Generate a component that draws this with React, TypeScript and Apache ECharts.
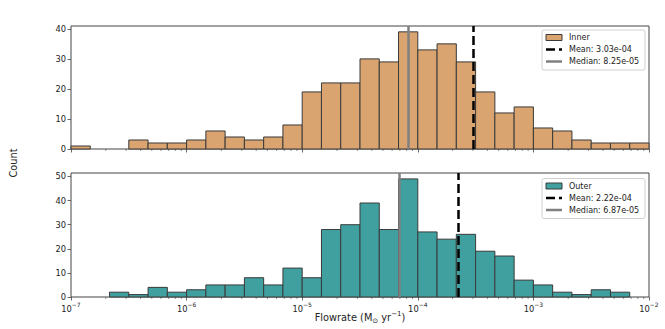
import React, { useEffect, useRef } from "react";
import * as echarts from "echarts";

// ---- data ----
const LOG_MIN = -7;
const LOG_MAX = -2;
const BINS_PER_DECADE = 6;
const PANEL_NAMES = ["Inner", "Outer"];
const INNER_COUNTS = [1, 0, 0, 3, 2, 2, 3, 6, 4, 3, 4, 8, 19, 22, 22, 30, 29, 39, 33, 35, 29, 19, 12, 14, 7, 6, 3, 2, 2, 2];
const OUTER_COUNTS = [0, 0, 2, 1, 4, 2, 3, 5, 5, 8, 5, 12, 8, 28, 30, 39, 28, 49, 27, 24, 26, 19, 17, 7, 5, 2, 1, 3, 2, 0];
const MEANS = [3.03e-4, 2.22e-4];
const MEDIANS = [8.25e-5, 6.87e-5];
const Y_TICKS_INNER = [0, 10, 20, 30, 40];
const Y_TICKS_OUTER = [0, 10, 20, 30, 40, 50];
const Y_MAX = [40.95, 51.45];
const X_TICK_EXPONENTS = [-7, -6, -5, -4, -3, -2];
const MINOR_MULTIPLIERS = [2, 3, 4, 5, 6, 7, 8, 9];

// ---- style ----
const FONT = "DejaVu Sans";
const FILL = ["rgb(217,164,111)", "rgb(64,160,160)"];
const EDGE = "#3a3a3a";
const AXIS_COLOR = "#444";
const TEXT_COLOR = "#222";
const GRID_LEFT = 71;
const GRID_WIDTH = 578;
const GRIDS = [
  { top: 26, height: 123 },
  { top: 173, height: 124 },
];

function fmtExp(v: number): string {
  const s = v.toExponential(2);
  const [m, e] = s.split("e");
  const sign = e[0] === "-" ? "-" : "+";
  const digits = e.replace(/[+-]/, "").padStart(2, "0");
  return `${m}e${sign}${digits}`;
}

function barSeries(idx: number, counts: number[]) {
  const data = counts
    .map((c, i) => [LOG_MIN + i / BINS_PER_DECADE, LOG_MIN + (i + 1) / BINS_PER_DECADE, c])
    .filter((d) => d[2] > 0);
  return {
    type: "custom",
    name: PANEL_NAMES[idx],
    xAxisIndex: idx,
    yAxisIndex: idx,
    z: 2,
    encode: { x: [0, 1], y: 2 },
    data,
    renderItem: (_p: any, api: any) => {
      const p0 = api.coord([api.value(0), api.value(2)]);
      const p1 = api.coord([api.value(1), 0]);
      return {
        type: "rect",
        shape: { x: p0[0], y: p0[1], width: p1[0] - p0[0], height: p1[1] - p0[1] },
        style: { fill: FILL[idx], stroke: EDGE, lineWidth: 1 },
      };
    },
  };
}

function linesSeries(idx: number) {
  return {
    type: "line",
    xAxisIndex: idx,
    yAxisIndex: idx,
    data: [],
    z: 5,
    markLine: {
      silent: true,
      symbol: ["none", "none"],
      label: { show: false },
      animation: false,
      data: [
        { xAxis: Math.log10(MEANS[idx]), lineStyle: { color: "#000", width: 2.5, type: [9, 4] } },
        { xAxis: Math.log10(MEDIANS[idx]), lineStyle: { color: "#808080", width: 2.5, type: "solid" } },
      ],
    },
  };
}

function minorTickSeries(idx: number) {
  const data: number[][] = [];
  for (let d = LOG_MIN; d < LOG_MAX; d++) {
    for (const k of MINOR_MULTIPLIERS) data.push([d + Math.log10(k), 0]);
  }
  return {
    type: "custom",
    xAxisIndex: idx,
    yAxisIndex: idx,
    clip: false,
    silent: true,
    z: 1,
    data,
    renderItem: (_p: any, api: any) => {
      const p = api.coord([api.value(0), 0]);
      return {
        type: "line",
        shape: { x1: p[0], y1: p[1], x2: p[0], y2: p[1] + 2 },
        style: { stroke: AXIS_COLOR, lineWidth: 0.6 },
      };
    },
  };
}

function legendGroup(idx: number, top: number) {
  const left = 542;
  const rows = [top + 7.5, top + 19.5, top + 31.5];
  const hx0 = 546;
  const hx1 = 562;
  const tx = 569;
  const textStyle = (t: string, y: number) => ({
    type: "text",
    x: tx,
    y,
    style: { text: t, fontFamily: FONT, fontSize: 8, fill: TEXT_COLOR, verticalAlign: "middle", align: "left" },
  });
  return {
    type: "group",
    children: [
      {
        type: "rect",
        shape: { x: left, y: top, width: 103, height: 40, r: 2 },
        style: { fill: "rgba(255,255,255,0.8)", stroke: "#d0d0d0", lineWidth: 1 },
      },
      {
        type: "rect",
        shape: { x: hx0, y: rows[0] - 3, width: hx1 - hx0, height: 6 },
        style: { fill: FILL[idx], stroke: EDGE, lineWidth: 1 },
      },
      textStyle(PANEL_NAMES[idx], rows[0]),
      {
        type: "line",
        shape: { x1: hx0, y1: rows[1], x2: hx1, y2: rows[1] },
        style: { stroke: "#000", lineWidth: 2.5, lineDash: [9, 4] },
      },
      textStyle(`Mean: ${fmtExp(MEANS[idx])}`, rows[1]),
      {
        type: "line",
        shape: { x1: hx0, y1: rows[2], x2: hx1, y2: rows[2] },
        style: { stroke: "#808080", lineWidth: 2.5 },
      },
      textStyle(`Median: ${fmtExp(MEDIANS[idx])}`, rows[2]),
    ],
  };
}

export default function App() {
  const ref = useRef<HTMLDivElement>(null);
  useEffect(() => {
    if (!ref.current) return;
    const chart = echarts.init(ref.current, undefined, { renderer: "svg" });
    const yTicks = [Y_TICKS_INNER, Y_TICKS_OUTER];
    const option: any = {
      animation: false,
      textStyle: { fontFamily: FONT },
      grid: GRIDS.map((g) => ({
        left: GRID_LEFT,
        width: GRID_WIDTH,
        top: g.top,
        height: g.height,
        show: true,
        borderColor: AXIS_COLOR,
        borderWidth: 1,
        backgroundColor: "transparent",
        containLabel: false,
      })),
      xAxis: [0, 1].map((i) => ({
        type: "value",
        gridIndex: i,
        min: LOG_MIN,
        max: LOG_MAX,
        interval: 1,
        splitLine: { show: false },
        axisLine: { show: false },
        axisTick: { show: true, length: 3.5, lineStyle: { color: AXIS_COLOR, width: 0.8 } },
        axisLabel: {
          show: i === 1,
          margin: 4,
          customValues: X_TICK_EXPONENTS,
          formatter: (v: number) => `{b|10}{s|${v < 0 ? "\u2212" : ""}${Math.abs(v)}}`,
          rich: {
            b: { fontFamily: FONT, fontSize: 8.3, color: TEXT_COLOR, lineHeight: 12, verticalAlign: "bottom" },
            s: { fontFamily: FONT, fontSize: 6, color: TEXT_COLOR, lineHeight: 6, verticalAlign: "top" },
          },
        },
      })),
      yAxis: [0, 1].map((i) => ({
        type: "value",
        gridIndex: i,
        min: 0,
        max: Y_MAX[i],
        splitLine: { show: false },
        axisLine: { show: false },
        axisTick: { show: true, length: 3.5, customValues: yTicks[i], lineStyle: { color: AXIS_COLOR, width: 0.8 } },
        axisLabel: {
          show: true,
          margin: 5,
          customValues: yTicks[i],
          fontFamily: FONT,
          fontSize: 8.3,
          color: TEXT_COLOR,
        },
      })),
      series: [
        barSeries(0, INNER_COUNTS),
        barSeries(1, OUTER_COUNTS),
        linesSeries(0),
        linesSeries(1),
        minorTickSeries(0),
        minorTickSeries(1),
      ],
      graphic: [
        legendGroup(0, 30),
        legendGroup(1, 178.5),
        {
          type: "text",
          x: 13,
          y: 163,
          rotation: Math.PI / 2,
          style: { text: "Count", fontFamily: FONT, fontSize: 9.8, fill: TEXT_COLOR, align: "center", verticalAlign: "middle" },
        },
        {
          type: "text",
          x: 360,
          y: 317,
          style: {
            text: "{a|Flowrate (M}{sub|\u2299}{a| yr}{sup|\u22121}{a|)}",
            align: "center",
            verticalAlign: "middle",
            rich: {
              a: { fontFamily: FONT, fontSize: 9.8, fill: TEXT_COLOR, lineHeight: 14, verticalAlign: "middle" },
              sub: { fontFamily: FONT, fontSize: 7, fill: TEXT_COLOR, lineHeight: 7, verticalAlign: "bottom" },
              sup: { fontFamily: FONT, fontSize: 7, fill: TEXT_COLOR, lineHeight: 7, verticalAlign: "top" },
            },
          },
        },
      ],
    };
    chart.setOption(option);
    return () => chart.dispose();
  }, []);
  return (
    <div
      ref={ref}
      style={{ position: "absolute", left: 0, top: 0, width: 665, height: 329, background: "#fff" }}
    />
  );
}
